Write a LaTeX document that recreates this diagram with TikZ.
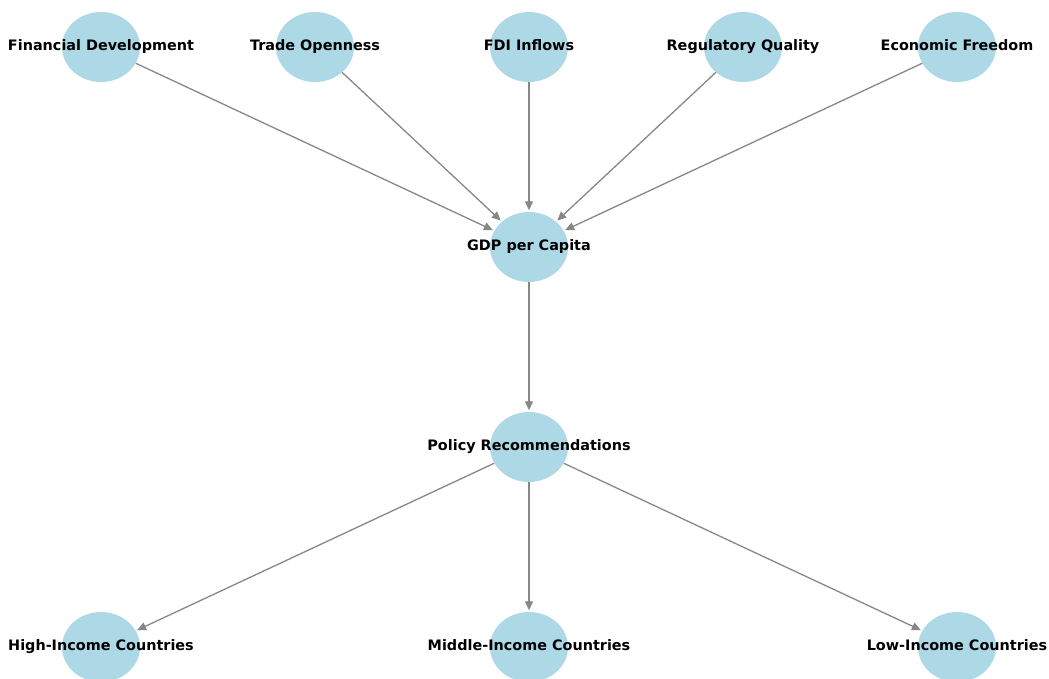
\documentclass[tikz,border=0pt]{standalone}
\usepackage{fontspec}
\setmainfont{DejaVu Sans}
\usepackage{xcolor}
\usepackage{tikz}
\usetikzlibrary{arrows.meta,shapes.geometric}

\definecolor{nodeblue}{RGB}{173,216,230}
\definecolor{edgegray}{RGB}{135,135,135}

\tikzset{
  dot/.style={ellipse,fill=nodeblue,minimum width=78pt,minimum height=70pt,inner sep=0pt},
  lbl/.style={font=\bfseries\fontsize{14.4}{16}\selectfont,text=black,inner sep=0pt,
    text height=10pt,text depth=2.5pt},
  flow/.style={color=edgegray,line width=1.3pt,shorten >=1.5pt,-{Triangle[length=9pt,width=8pt]}}
}

\begin{document}
\begin{tikzpicture}[x=1pt,y=-1pt,node distance=214pt]
\useasboundingbox (0,0) rectangle (1049,678);

% factors
\node[dot,label={[lbl]center:FDI Inflows}] (fdi) at (529,47) {};
\node[dot,label={[lbl]center:Trade Openness}] (trade) [left of=fdi] {};
\node[dot,label={[lbl]center:Financial Development}] (fin) [left of=trade] {};
\node[dot,label={[lbl]center:Regulatory Quality}] (regq) [right of=fdi] {};
\node[dot,label={[lbl]center:Economic Freedom}] (econ) [right of=regq] {};

% outcome and policy
\node[dot,label={[lbl]center:GDP per Capita}] (gdp) [below of=fdi,node distance=200pt] {};
\node[dot,label={[lbl]center:Policy Recommendations}] (policy) [below of=gdp,node distance=200pt] {};

% country groups
\node[dot,label={[lbl]center:Middle-Income Countries}] (mid) [below of=policy,node distance=200pt] {};
\node[dot,label={[lbl]center:High-Income Countries}] (high) [left of=mid,node distance=428pt] {};
\node[dot,label={[lbl]center:Low-Income Countries}] (low) [right of=mid,node distance=428pt] {};

\path[flow]
(fin) edge (gdp)
(trade) edge (gdp)
(fdi) edge (gdp)
(regq) edge (gdp)
(econ) edge (gdp)
(gdp) edge (policy)
(policy) edge (high)
	edge (mid)
	edge (low);
\end{tikzpicture}
\end{document}
